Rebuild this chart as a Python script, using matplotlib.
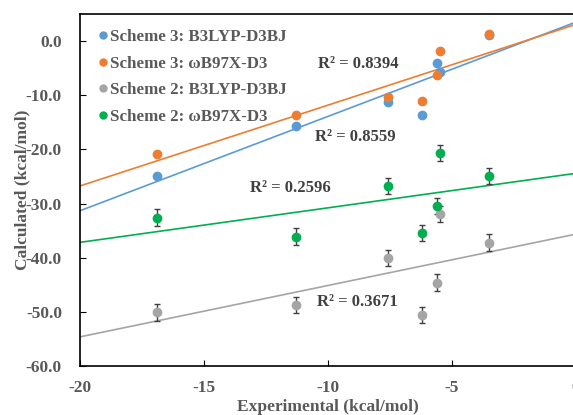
import numpy as np
import matplotlib.pyplot as plt
from matplotlib.lines import Line2D

plt.rcParams['font.family'] = ['Liberation Serif', 'DejaVu Serif']
plt.rcParams['font.weight'] = 'bold'
plt.rcParams['axes.labelweight'] = 'bold'
plt.rcParams['axes.unicode_minus'] = False

# experimental values (kcal/mol)
exp = [-16.9, -11.3, -7.6, -6.2, -5.6, -5.5, -3.5]

# calculated values for each scheme / functional
s3_b3lyp = [-24.9, -15.6, -11.3, -13.6, -4.0, -5.8, 1.2]
s3_wb97 = [-20.9, -13.6, -10.4, -11.1, -6.2, -1.9, 1.3]
s2_b3lyp = [-50.1, -48.7, -40.1, -50.6, -44.6, -31.9, -37.2]
s2_wb97 = [-32.6, -36.1, -26.8, -35.5, -30.4, -20.7, -24.9]
s2_err = 1.5

labels = ['Scheme 3: B3LYP-D3BJ', 'Scheme 3: ωB97X-D3',
          'Scheme 2: B3LYP-D3BJ', 'Scheme 2: ωB97X-D3']
colors = ['#5B9BD5', '#ED7D31', '#A5A5A5', '#00B050']
r2_texts = ['R² = 0.8394', 'R² = 0.8559', 'R² = 0.3671', 'R² = 0.2596']
r2_pos = [(-8.8, -4.2), (-8.9, -17.8), (-8.8, -48.1), (-11.5, -27.2)]

txt = '#595959'

fig = plt.figure(figsize=(5.73, 4.15), dpi=100)
ax = fig.add_axes([80/573, 1-366/415, 496/573, 352/415])

series = [s3_b3lyp, s3_wb97, s2_b3lyp, s2_wb97]
xfit = np.array([-20, 0])
for i, ys in enumerate(series):
    if i >= 2:
        ax.errorbar(exp, ys, yerr=s2_err, fmt='o', color=colors[i], ms=6,
                    ecolor='#404040', elinewidth=1, capsize=2, capthick=1,
                    zorder=3)
    else:
        ax.plot(exp, ys, 'o', color=colors[i], ms=6, zorder=3)
    k, b = np.polyfit(exp, ys, 1)
    ax.plot(xfit, k*xfit + b, '-', color=colors[i], lw=1.2, zorder=2)
    ax.text(r2_pos[i][0], r2_pos[i][1], r2_texts[i], ha='center', va='center',
            fontsize=12, color='#404040', fontweight='bold')

ax.set_xlim(-20, 0)
ax.set_ylim(-60, 5)
ax.set_xticks([-20, -15, -10, -5, 0])
ax.set_yticks(np.arange(-60, 1, 10))
ax.set_yticklabels(['%.1f' % v for v in np.arange(-60, 1, 10)])
ax.tick_params(direction='in', length=4, labelsize=12.5, labelcolor=txt)
ax.tick_params(axis='x', pad=10)
ax.tick_params(axis='y', pad=13)
for lab in ax.get_xticklabels() + ax.get_yticklabels():
    lab.set_fontweight('bold')
for s in ax.spines.values():
    s.set_linewidth(1.2)

ax.set_xlabel('Experimental (kcal/mol)', fontsize=12.5, color=txt,
              fontweight='bold', labelpad=2)
ax.set_ylabel('Calculated (kcal/mol)', fontsize=12.5, color=txt,
              fontweight='bold', labelpad=-3)

handles = [Line2D([], [], marker='o', ls='', color=c, ms=5) for c in colors]
leg = ax.legend(handles, labels, loc='upper left', frameon=False,
                prop={'size': 12.2, 'weight': 'bold'}, handletextpad=0.0,
                handlelength=0.9, borderaxespad=0.3, labelspacing=0.62,
                borderpad=0.6)
for t in leg.get_texts():
    t.set_color(txt)

fig.savefig('out.png', dpi=100)
